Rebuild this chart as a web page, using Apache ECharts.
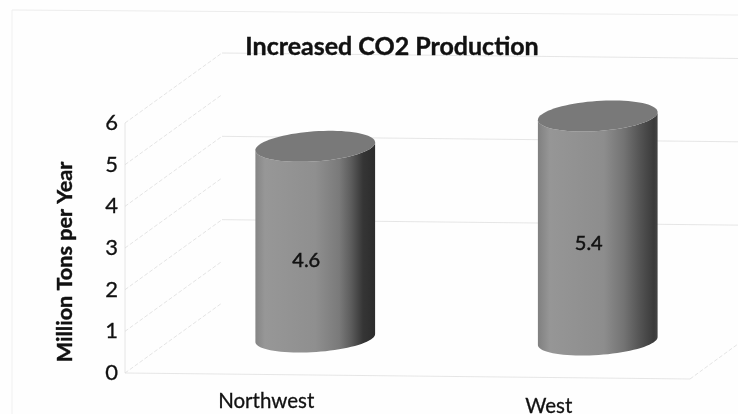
<!DOCTYPE html>
<html><head><meta charset="utf-8">
<style>html,body{margin:0;padding:0;background:#fefefe}#c{width:738px;height:414px}</style>
<script src="https://cdn.jsdelivr.net/npm/echarts@6/dist/echarts.min.js"></script>
</head><body><div id="c"></div>
<script>
const categories = ['Northwest', 'West'];
const values = [4.6, 5.4];
const yTicks = [0, 1, 2, 3, 4, 5, 6];
const wallTicks = [2, 4, 6];

const FONT = 'Lato, "Open Sans", sans-serif';
const TEXT = '#111';
const DEPTH_X = 97, DEPTH_Y = -70, TILT = 0.0106;
const BAR_DX = 49, BAR_DY = -36.5, RX = 60, RY = 15, ANG = -4 * Math.PI / 180;
const bodyStops = [
  [[0,'#858585'],[0.08,'#979797'],[0.5,'#8f8f8f'],[0.7,'#7a7a7a'],[0.8,'#5c5c5c'],[0.9,'#353535'],[1,'#2c2c2c']],
  [[0,'#808080'],[0.1,'#969696'],[0.55,'#8d8d8d'],[0.72,'#737373'],[0.86,'#525252'],[0.97,'#3a3a3a'],[1,'#444444']]
];

function ellipsePts(cx, cy, ry, t0, t1, n) {
  const pts = [];
  for (let i = 0; i <= n; i++) {
    const t = t0 + (t1 - t0) * i / n;
    pts.push([
      cx + RX * Math.cos(t) * Math.cos(ANG) - ry * Math.sin(t) * Math.sin(ANG),
      cy + RX * Math.cos(t) * Math.sin(ANG) + ry * Math.sin(t) * Math.cos(ANG)
    ]);
  }
  return pts;
}

function renderWalls(params, api) {
  const v = api.value(1);
  const cs = params.coordSys;
  const y = api.coord([0, v])[1];
  const x0 = cs.x, x1 = x0 + DEPTH_X, x2 = cs.x + cs.width + 48;
  const slant = {stroke: '#d8d8d8', lineWidth: 0.7, lineDash: [4, 2]};
  const solid = {stroke: '#e0e0e0', lineWidth: 0.8};
  const children = [{type: 'line', shape: {x1: x0, y1: y, x2: x1, y2: y + DEPTH_Y}, style: slant}];
  if (wallTicks.includes(v)) {
    children.push({type: 'line', shape: {x1: x1, y1: y + DEPTH_Y, x2: x2, y2: y + DEPTH_Y + TILT * (x2 - x1)}, style: solid});
  }
  if (v === 0) {
    const xr = cs.x + cs.width, yr = y + TILT * cs.width;
    children.push({type: 'line', shape: {x1: x0, y1: y, x2: xr, y2: yr}, style: solid});
    children.push({type: 'line', shape: {x1: xr, y1: yr, x2: xr + 48, y2: yr - 35}, style: slant});
    children.push({type: 'line', shape: {x1: x0, y1: y, x2: x0, y2: cs.y}, style: solid});
  }
  return {type: 'group', children};
}

function renderCylinder(params, api) {
  const idx = api.value(0), v = api.value(1);
  const base = api.coord([idx, 0]), top = api.coord([idx, v]), mid = api.coord([idx, v / 2]);
  const dy = BAR_DY + TILT * (base[0] - params.coordSys.x);
  const cx = base[0] + BAR_DX;
  const yb = base[1] + dy, yt = top[1] + dy;
  const body = ellipsePts(cx, yb, RY - 1, 0, Math.PI, 40).concat(ellipsePts(cx, yt, RY, Math.PI, 0, 40));
  const topPts = ellipsePts(cx, yt, RY, 0, 2 * Math.PI, 80);
  return {type: 'group', children: [
    {type: 'polygon', shape: {points: body}, style: {fill: {
      type: 'linear', x: 0, y: 0, x2: 1, y2: 0,
      colorStops: bodyStops[idx].map(s => ({offset: s[0], color: s[1]}))
    }}},
    {type: 'polygon', shape: {points: topPts}, style: {fill: '#797979'}},
    {type: 'text', x: base[0] + 40, y: mid[1] - 17, style: {
      text: String(v), fill: TEXT, font: '20px ' + FONT, textAlign: 'center', textVerticalAlign: 'middle',
      stroke: TEXT, lineWidth: 0.5
    }}
  ]};
}

const chart = echarts.init(document.getElementById('c'));
chart.setOption({
  animation: false,
  backgroundColor: '#fefefe',
  title: {
    text: 'Increased CO2 Production', left: 387, top: 29, textAlign: 'center',
    textStyle: {fontFamily: FONT, fontSize: 25, fontWeight: 'bold', color: TEXT, textBorderColor: TEXT, textBorderWidth: 0.4}
  },
  grid: {left: 125, right: 48, top: 123, bottom: 41, outerBoundsMode: 'none'},
  xAxis: {
    type: 'category',
    data: categories.map((c, i) => ({value: c, textStyle: {padding: [i * 5, 0, 0, 0]}})),
    axisLine: {show: false}, axisTick: {show: false},
    axisLabel: {fontFamily: FONT, fontSize: 20.5, color: TEXT, margin: 18, textBorderColor: TEXT, textBorderWidth: 0.3}
  },
  yAxis: {
    type: 'value', min: 0, max: 6, interval: 1,
    name: 'Million Tons per Year', nameLocation: 'middle', nameGap: 49,
    nameTextStyle: {fontFamily: FONT, fontSize: 21.6, fontWeight: 'bold', color: TEXT, padding: [0, 28, 0, 0], textBorderColor: TEXT, textBorderWidth: 0.4},
    axisLine: {show: false}, axisTick: {show: false}, splitLine: {show: false},
    axisLabel: {fontFamily: FONT, fontSize: 22, color: TEXT, margin: 7, padding: [4, 0, 0, 0], textBorderColor: TEXT, textBorderWidth: 0.3}
  },
  series: [
    {type: 'custom', renderItem: renderWalls, silent: true, z: 1, data: yTicks.map(t => [0, t])},
    {type: 'custom', renderItem: renderCylinder, z: 2, data: values.map((v, i) => [i, v])}
  ],
  graphic: [
    {type: 'line', z: 0, shape: {x1: 12, y1: 10, x2: 738, y2: 15}, style: {stroke: '#ececec', lineWidth: 1}},
    {type: 'line', z: 0, shape: {x1: 12, y1: 10, x2: 12, y2: 414}, style: {stroke: '#f0f0f0', lineWidth: 1}}
  ]
});
</script></body></html>
